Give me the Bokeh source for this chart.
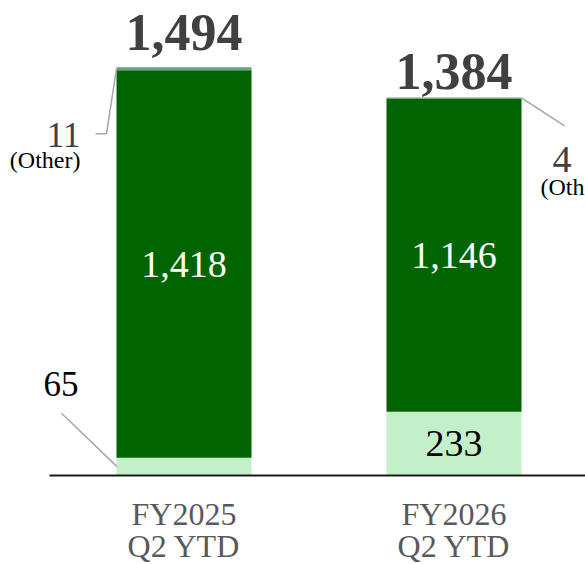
import numpy as np
from bokeh.plotting import figure
from bokeh.models import Range1d
from bokeh.core.properties import value
from bokeh.embed import file_html
from bokeh.resources import INLINE

# ---- data ----
categories = ["FY2025 Q2 YTD", "FY2026 Q2 YTD"]
cat_line1 = ["FY2025", "FY2026"]
cat_line2 = ["Q2 YTD", "Q2 YTD"]
base_vals = [65, 233]        # light green segment
main_vals = [1418, 1146]     # dark green segment
other_vals = [11, 4]         # "Other" segment
totals = [1494, 1384]
total_labels = ["1,494", "1,384"]
main_labels = ["1,418", "1,146"]
base_labels = ["65", "233"]
other_labels = ["11", "4"]

FONT = value("Liberation Serif")
DARK = "#006400"
LIGHT = "#c4f0c9"
OTHER = "#6a9f8c"
LEADER = "#a6a6a6"

W, H = 585, 564
PX_X = 270.0          # pixels per category unit
K = 0.2733            # pixels per value unit
base_px = 475         # canvas y of zero line
x0 = -183.5 / PX_X
p = figure(width=W, height=H, output_backend="svg", toolbar_location=None,
           x_range=Range1d(x0, x0 + W / PX_X),
           y_range=Range1d(-(H - base_px) / K, base_px / K),
           min_border=0, outline_line_color=None)
p.axis.visible = False
p.grid.visible = False
p.background_fill_color = "white"

xs = np.arange(len(categories), dtype=float)
bw = 0.5
b = np.array(base_vals, float)
m = np.array(main_vals, float)
o = np.array(other_vals, float)

p.vbar(x=xs, bottom=0, top=b, width=bw, fill_color=LIGHT, line_color=None)
p.vbar(x=xs, bottom=b, top=b + m, width=bw, fill_color=DARK, line_color=None)
p.vbar(x=xs, bottom=b + m, top=b + m + o, width=bw, fill_color=OTHER, line_color=None)

COMP = 0.345  # baseline correction (fraction of font size)

def ox(px):
    return px / PX_X

def oy(px):
    return px / K

def ty(anchor, px_up, fs):
    return anchor + oy(px_up + COMP * fs)

# zero line
p.segment(x0=[x0 + 49 / PX_X], y0=[0], x1=[x0 + W / PX_X], y1=[0],
          line_color="#1a1a1a", line_width=2)

# totals
tot_gap = [16.7, 7.4]
p.text(x=xs, y=[ty(t, g, 52) for t, g in zip(totals, tot_gap)], text=total_labels,
       text_font=FONT, text_font_size=value("52px"), text_font_style="bold",
       text_color="#404040", text_align="center", text_baseline="alphabetic")

# main labels (white)
mid_main = b + m / 2
p.text(x=xs, y=[ty(v, -13.4, 38) for v in mid_main], text=main_labels, text_font=FONT,
       text_font_size=value("38px"), text_color="white",
       text_align="center", text_baseline="alphabetic")

# base label inside bar 2
mid_base = b / 2
p.text(x=[xs[1]], y=[ty(mid_base[1], -13.4, 38)], text=[base_labels[1]], text_font=FONT,
       text_font_size=value("38px"), text_color="black",
       text_align="center", text_baseline="alphabetic")

# base label outside bar 1 with leader
left1 = xs[0] - bw / 2
p.line(x=[left1 + ox(-55), left1 + ox(0.5)], y=[mid_base[0] + oy(53.4), mid_base[0]],
       line_color=LEADER, line_width=1.5)
p.text(x=[left1 + ox(-38)], y=[ty(mid_base[0], 71, 35)], text=[base_labels[0]], text_font=FONT,
       text_font_size=value("35px"), text_color="black",
       text_align="right", text_baseline="alphabetic")

# other label bar 1 (left)
top1 = totals[0] - other_vals[0] / 2
p.line(x=[left1 + ox(-21), left1 + ox(-10), left1],
       y=[top1 - oy(65), top1 - oy(65), top1],
       line_color=LEADER, line_width=1.5)
p.text(x=[left1 + ox(-36)], y=[ty(top1, -78.5, 35)], text=[other_labels[0]], text_font=FONT,
       text_font_size=value("35px"), text_color="#404040",
       text_align="right", text_baseline="alphabetic")
p.text(x=[left1 + ox(-36)], y=[ty(top1, -100, 24)], text=["(Other)"], text_font=FONT,
       text_font_size=value("24px"), text_color="black",
       text_align="right", text_baseline="alphabetic")

# other label bar 2 (right)
right2 = xs[1] + bw / 2
top2 = totals[1] - other_vals[1] / 2
p.line(x=[right2, right2 + ox(43)], y=[top2, top2 - oy(28)],
       line_color=LEADER, line_width=1.5)
p.text(x=[right2 + ox(31)], y=[ty(top2, -75, 38)], text=[other_labels[1]], text_font=FONT,
       text_font_size=value("38px"), text_color="#404040",
       text_align="left", text_baseline="alphabetic")
p.text(x=[right2 + ox(19)], y=[ty(top2, -97, 24)], text=["(Other)"], text_font=FONT,
       text_font_size=value("24px"), text_color="black",
       text_align="left", text_baseline="alphabetic")

# category labels
p.text(x=xs, y=[ty(0, -50, 32)] * len(xs), text=cat_line1, text_font=FONT,
       text_font_size=value("32px"), text_color="#595959",
       text_align="center", text_baseline="alphabetic")
p.text(x=xs, y=[ty(0, -82, 32)] * len(xs), text=cat_line2, text_font=FONT,
       text_font_size=value("32px"), text_color="#595959",
       text_align="center", text_baseline="alphabetic")

open("out.html", "w").write(file_html(p, INLINE))
